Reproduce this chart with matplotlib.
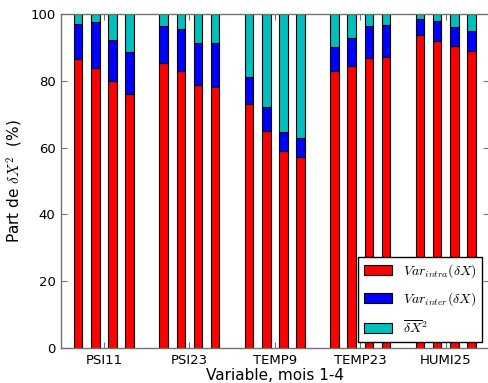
import numpy as np
import matplotlib.pyplot as plt

plt.rcParams["mathtext.fontset"] = "cm"

variables = ["PSI11", "PSI23", "TEMP9", "TEMP23", "HUMI25"]
months = [1, 2, 3, 4]

# part (%) of each term, 4 months per variable
var_intra = [86.4, 83.9, 79.8, 76.0,
             85.3, 83.0, 78.6, 78.2,
             73.2, 64.9, 59.1, 57.1,
             83.0, 84.3, 86.8, 87.0,
             93.7, 92.0, 90.3, 89.0]
var_inter = [10.6, 13.6, 12.5, 12.5,
             11.1, 12.6, 12.6, 13.0,
             7.9, 7.2, 5.7, 5.7,
             7.0, 8.6, 9.5, 9.6,
             4.8, 5.8, 5.7, 6.0]
mean_sq = [3.0, 2.5, 7.7, 11.5,
           3.6, 4.4, 8.8, 8.8,
           18.9, 27.9, 35.2, 37.2,
           10.0, 7.1, 3.7, 3.4,
           1.5, 2.2, 4.0, 5.0]

var_intra = np.array(var_intra)
var_inter = np.array(var_inter)
mean_sq = np.array(mean_sq)

nm = len(months)
pos = np.array([5 * g + i for g in range(len(variables)) for i in range(nm)])
width = 0.5

fig = plt.figure(figsize=(4.89, 3.83), dpi=100)
ax = fig.add_axes([0.125, 0.0914, 0.874, 0.872])

ax.bar(pos, var_intra, width, color="#ff0000", edgecolor="k", linewidth=0.8,
       label=r"$Var_{intra}(\delta X)$")
ax.bar(pos, var_inter, width, bottom=var_intra, color="#0000ff", edgecolor="k",
       linewidth=0.8, label=r"$Var_{inter}(\delta X)$")
ax.bar(pos, mean_sq, width, bottom=var_intra + var_inter, color="#00bfbf",
       edgecolor="k", linewidth=0.8, label=r"$\overline{\delta X}^2$")

ax.set_xlim(-1, 24)
ax.set_ylim(0, 100)
ax.set_xticks([5 * g + 1.5 for g in range(len(variables))])
ax.set_xticklabels(variables)
ax.set_yticks([0, 20, 40, 60, 80, 100])
ax.tick_params(direction="in", top=True, right=True, labelsize=9.5,
               length=4, width=0.8, color="0.45", pad=4)
for s in ax.spines.values():
    s.set_color("0.45")
    s.set_linewidth(1)

ax.set_xlabel("Variable, mois 1-4", fontsize=11, labelpad=1)
ax.set_ylabel(r"Part de $\delta X^2$  (%)", fontsize=11)

ax.legend(loc="lower right", fontsize=10, fancybox=False, edgecolor="k",
          framealpha=1, handlelength=2.0, labelspacing=0.75,
          borderaxespad=0.45)

fig.savefig("out.png", dpi=100)
